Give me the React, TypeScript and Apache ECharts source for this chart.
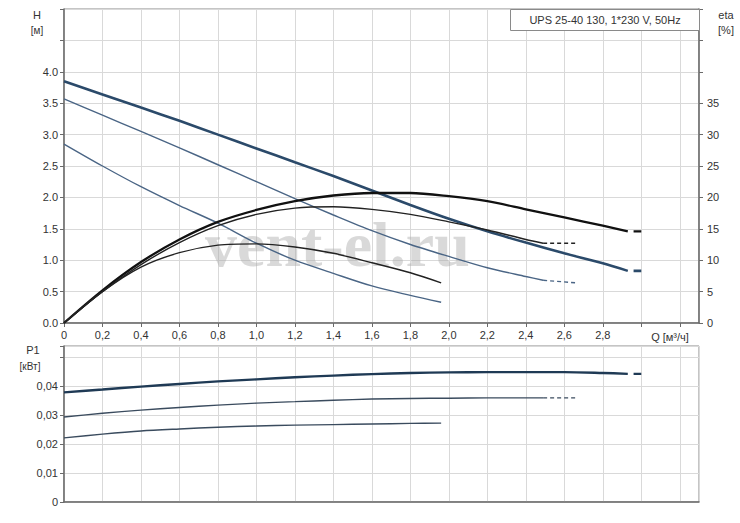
import React, { useEffect, useRef } from 'react';
import * as echarts from 'echarts';

// Q [м³/ч] — три скорости насоса
const Q_HIGH = [0, 0.2, 0.4, 0.6, 0.8, 1.0, 1.2, 1.4, 1.6, 1.8, 2.0, 2.2, 2.4, 2.6, 2.8, 2.93];
const H_HIGH = [3.85, 3.64, 3.43, 3.22, 3.0, 2.78, 2.56, 2.34, 2.11, 1.88, 1.66, 1.46, 1.28, 1.11, 0.95, 0.83];
const ETA_HIGH = [0, 5.2, 9.7, 13.3, 16.1, 18.0, 19.4, 20.3, 20.7, 20.7, 20.2, 19.4, 18.1, 16.8, 15.5, 14.6];
const P_HIGH = [0.0378, 0.0388, 0.0398, 0.0407, 0.0416, 0.0423, 0.043, 0.0436, 0.0441, 0.0445, 0.0447, 0.0448, 0.0448, 0.0448, 0.0445, 0.0442];

const Q_MID = [0, 0.2, 0.4, 0.6, 0.8, 1.0, 1.2, 1.4, 1.6, 1.8, 2.0, 2.2, 2.4, 2.49];
const H_MID = [3.57, 3.31, 3.05, 2.79, 2.52, 2.25, 1.98, 1.72, 1.47, 1.25, 1.06, 0.88, 0.74, 0.68];
const ETA_MID = [0, 5.0, 9.3, 12.8, 15.5, 17.3, 18.3, 18.5, 18.1, 17.3, 16.1, 14.8, 13.3, 12.7];
const P_MID = [0.0293, 0.0306, 0.0317, 0.0326, 0.0334, 0.0341, 0.0346, 0.0351, 0.0355, 0.0357, 0.0358, 0.0359, 0.0359, 0.0359];

const Q_LOW = [0, 0.2, 0.4, 0.6, 0.8, 1.0, 1.2, 1.4, 1.6, 1.8, 1.96];
const H_LOW = [2.85, 2.5, 2.17, 1.87, 1.59, 1.27, 1.0, 0.79, 0.59, 0.44, 0.33];
const ETA_LOW = [0, 5.0, 8.9, 11.2, 12.4, 12.6, 12.1, 11.1, 9.6, 8.0, 6.4];
const P_LOW = [0.0221, 0.0234, 0.0245, 0.0252, 0.0258, 0.0262, 0.0265, 0.0267, 0.0269, 0.0271, 0.0272];

// пунктирные продолжения
const Q_HIGH_EXT = [2.96, 3.0];
const H_HIGH_EXT = [0.83, 0.83];
const ETA_HIGH_EXT = [14.6, 14.6];
const P_HIGH_EXT = [0.0442, 0.0442];
const Q_MID_EXT = [2.49, 2.66];
const H_MID_EXT = [0.68, 0.64];
const ETA_MID_EXT = [12.7, 12.7];
const P_MID_EXT = [0.0359, 0.0359];

const TITLE = 'UPS 25-40 130, 1*230 V, 50Hz';

const FONT = '"Liberation Sans", Arial, sans-serif';
const GRID_COLOR = '#d9d9d9';
const AXIS_COLOR = '#6a6a6a';

const pairs = (xs: number[], ys: number[]) => xs.map((x, i) => [x, ys[i]]);

const comma = (v: number, d: number) => v.toFixed(d).replace('.', ',');

const App: React.FC = () => {
  const chartRef = useRef<HTMLDivElement>(null);

  useEffect(() => {
    if (!chartRef.current) return;
    const chart = echarts.init(chartRef.current, undefined, { renderer: 'svg' });

    const line = (
      name: string,
      xs: number[],
      ys: number[],
      xAxisIndex: number,
      yAxisIndex: number,
      color: string,
      width: number,
      type: any = 'solid',
    ) => ({
      name,
      type: 'line',
      xAxisIndex,
      yAxisIndex,
      data: pairs(xs, ys),
      smooth: type === 'solid' ? 0.3 : false,
      showSymbol: false,
      symbol: 'none',
      lineStyle: { color, width, type },
      z: 5,
    });

    const valueAxisBase = {
      axisLine: { show: true, lineStyle: { color: AXIS_COLOR, width: 1.5 } },
      axisTick: { show: true, length: 4, lineStyle: { color: AXIS_COLOR } },
      splitLine: { show: true, lineStyle: { color: GRID_COLOR, width: 1 } },
      axisLabel: { color: '#333', fontSize: 11, fontFamily: FONT, margin: 6 },
    };

    const option = {
      animation: false,
      backgroundColor: '#fff',
      grid: [
        { left: 64, right: 41, top: 9, height: 314, show: true, borderColor: '#8a8a8a', borderWidth: 1 },
        { left: 64, right: 41, top: 346, height: 156, show: true, borderColor: '#8a8a8a', borderWidth: 1 },
      ],
      xAxis: [
        {
          ...valueAxisBase,
          type: 'value',
          gridIndex: 0,
          min: 0,
          max: 3.3,
          interval: 0.2,
          axisLabel: {
            ...valueAxisBase.axisLabel,
            formatter: (v: number) => (v === 0 ? '0' : v > 2.85 ? '' : comma(v, 1)),
            showMaxLabel: false,
          },
        },
        {
          ...valueAxisBase,
          type: 'value',
          gridIndex: 1,
          min: 0,
          max: 3.3,
          interval: 0.2,
          axisTick: { show: false },
          axisLabel: { show: false },
        },
      ],
      yAxis: [
        {
          ...valueAxisBase,
          type: 'value',
          gridIndex: 0,
          min: 0,
          max: 5,
          interval: 0.5,
          axisLabel: {
            ...valueAxisBase.axisLabel,
            formatter: (v: number) => (v > 4.01 ? '' : v.toFixed(1)),
          },
        },
        {
          ...valueAxisBase,
          type: 'value',
          gridIndex: 0,
          position: 'right',
          min: 0,
          max: 50,
          interval: 5,
          splitLine: { show: false },
          axisLabel: {
            ...valueAxisBase.axisLabel,
            margin: 8,
            formatter: (v: number) => (v > 35.5 ? '' : String(v)),
          },
        },
        {
          ...valueAxisBase,
          type: 'value',
          gridIndex: 1,
          min: 0,
          max: 0.0538,
          interval: 0.01,
          axisLabel: {
            ...valueAxisBase.axisLabel,
            formatter: (v: number) => (v === 0 ? '0' : v > 0.0405 ? '' : comma(v, 2)),
          },
        },
      ],
      graphic: [
        {
          type: 'text',
          left: 205,
          top: 212,
          z: 1,
          style: {
            text: 'vent-el.ru',
            fontSize: 64,
            fontWeight: 'bold',
            fontFamily: '"Liberation Serif", "DejaVu Serif", serif',
            fill: 'rgba(170,170,170,0.45)',
          },
        },
        {
          type: 'rect',
          shape: { x: 510.5, y: 9.5, width: 189, height: 21 },
          style: { fill: '#fff', stroke: '#8a8a8a', lineWidth: 1 },
          z: 10,
        },
        {
          type: 'text',
          x: 605,
          y: 20,
          z: 11,
          style: { text: TITLE, fontSize: 11, fontFamily: FONT, fill: '#333', align: 'center', verticalAlign: 'middle' },
        },
        { type: 'text', x: 37, y: 15, style: { text: 'H', fontSize: 11, fontFamily: FONT, fill: '#333', align: 'center', verticalAlign: 'middle' } },
        { type: 'text', x: 37, y: 30, style: { text: '[м]', fontSize: 10, fontFamily: FONT, fill: '#333', align: 'center', verticalAlign: 'middle' } },
        { type: 'text', x: 726, y: 15, style: { text: 'eta', fontSize: 11, fontFamily: FONT, fill: '#333', align: 'center', verticalAlign: 'middle' } },
        { type: 'text', x: 726, y: 30, style: { text: '[%]', fontSize: 11, fontFamily: FONT, fill: '#333', align: 'center', verticalAlign: 'middle' } },
        { type: 'text', x: 33, y: 350, style: { text: 'P1', fontSize: 11, fontFamily: FONT, fill: '#333', align: 'center', verticalAlign: 'middle' } },
        { type: 'text', x: 30, y: 366, style: { text: '[кВт]', fontSize: 10, fontFamily: FONT, fill: '#333', align: 'center', verticalAlign: 'middle' } },
        { type: 'text', x: 670, y: 337, style: { text: 'Q [м³/ч]', fontSize: 11, fontFamily: FONT, fill: '#333', align: 'center', verticalAlign: 'middle' } },
      ],
      series: [
        line('H3', Q_HIGH, H_HIGH, 0, 0, '#2b4a6a', 2.6),
        line('H2', Q_MID, H_MID, 0, 0, '#4a6585', 1.4),
        line('H1', Q_LOW, H_LOW, 0, 0, '#4a6585', 1.4),
        line('H3ext', Q_HIGH_EXT, H_HIGH_EXT, 0, 0, '#2b4a6a', 2.6),
        line('H2ext', Q_MID_EXT, H_MID_EXT, 0, 0, '#4a6585', 1.4, [4, 3]),
        line('eta3', Q_HIGH, ETA_HIGH, 0, 1, '#111', 2.3),
        line('eta2', Q_MID, ETA_MID, 0, 1, '#222', 1.4),
        line('eta1', Q_LOW, ETA_LOW, 0, 1, '#222', 1.4),
        line('eta3ext', Q_HIGH_EXT, ETA_HIGH_EXT, 0, 1, '#111', 2.3),
        line('eta2ext', Q_MID_EXT, ETA_MID_EXT, 0, 1, '#222', 1.4, [4, 3]),
        line('P3', Q_HIGH, P_HIGH, 1, 2, '#1f3a55', 2.4),
        line('P2', Q_MID, P_MID, 1, 2, '#3a4b5e', 1.4),
        line('P1', Q_LOW, P_LOW, 1, 2, '#3a4b5e', 1.4),
        line('P3ext', Q_HIGH_EXT, P_HIGH_EXT, 1, 2, '#1f3a55', 2.4),
        line('P2ext', Q_MID_EXT, P_MID_EXT, 1, 2, '#3a4b5e', 1.4, [4, 3]),
      ],
    };

    chart.setOption(option);

    return () => {
      chart.dispose();
    };
  }, []);

  return (
    <div
      ref={chartRef}
      style={{ position: 'fixed', left: 0, top: 0, width: '740px', height: '523px' }}
    />
  );
};

export default App;
